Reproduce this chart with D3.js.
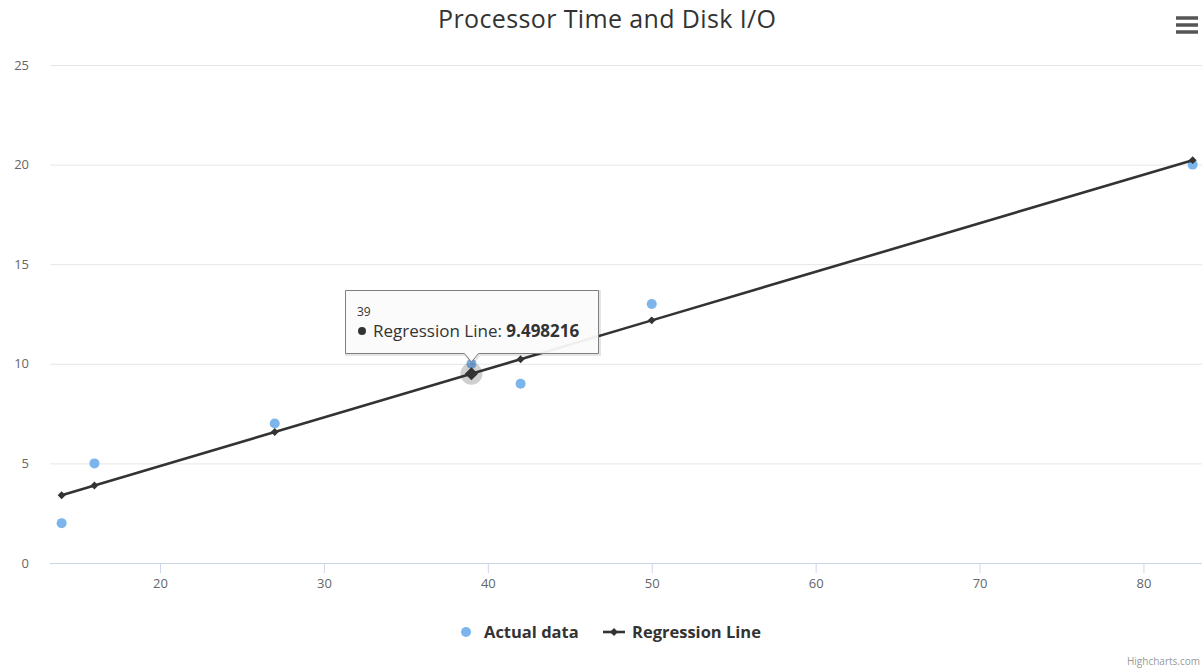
<!DOCTYPE html>
<html><head><meta charset="utf-8">
<script src="https://cdn.jsdelivr.net/npm/d3@7"></script>
<style>
body{margin:0;background:#fff;}
svg{display:block;font-family:"Open Sans","DejaVu Sans",sans-serif;}
</style></head>
<body><svg id="c" width="1202" height="669"></svg>
<script>
const title = "Processor Time and Disk I/O";
const actualX = [14, 16, 27, 39, 42, 50, 83];
const actualY = [2, 5, 7, 10, 9, 13, 20];
const regX = [14, 16, 27, 39, 42, 50, 83];
const regY = [3.404, 3.892, 6.573, 9.498216, 10.230, 12.180, 20.224];
const xTicks = [20, 30, 40, 50, 60, 70, 80];
const yTicks = [0, 5, 10, 15, 20, 25];
const seriesNames = ["Actual data", "Regression Line"];
const tipX = 39, tipValue = "9.498216";

const svg = d3.select("#c");
const L = 50, R = 1202, T = 65, B = 563;
const x = d3.scaleLinear().domain([13.29, 83.57]).range([L, R]);
const y = d3.scaleLinear().domain([0, 25]).range([B, T]);

svg.append("text").attr("x", 607).attr("y", 28).attr("text-anchor", "middle")
  .attr("font-size", 25).attr("fill", "#333").attr("textLength", 338).text(title);

// y grid + labels
const yAxis = d3.axisLeft(y).tickValues(yTicks).tickSize(-(R - L)).tickPadding(21);
const gy = svg.append("g").attr("transform", `translate(${L},0)`).call(yAxis);
gy.select(".domain").remove();
gy.selectAll(".tick line").attr("stroke", "#e6e6e6");
gy.selectAll(".tick text").attr("fill", "#666").attr("font-size", 13).attr("font-family", "Open Sans, sans-serif");

// x axis
const xAxis = d3.axisBottom(x).tickValues(xTicks).tickSize(10).tickPadding(6);
const gx = svg.append("g").attr("transform", `translate(0,${B})`).call(xAxis);
gx.select(".domain").attr("stroke", "#ccd6eb").attr("d", `M${L},0.5H${R}`);
gx.selectAll(".tick line").attr("stroke", "#ccd6eb");
gx.selectAll(".tick text").attr("fill", "#666").attr("font-size", 13).attr("font-family", "Open Sans, sans-serif");

// actual data
svg.append("g").selectAll("circle").data(actualX).join("circle")
  .attr("cx", (d) => x(d)).attr("cy", (d, i) => y(actualY[i])).attr("r", 5)
  .attr("fill", "#7cb5ec");

// regression line
const line = d3.line().x((d) => x(d)).y((d, i) => y(regY[i]));
const diamond = d3.symbol().type(d3.symbolDiamond2).size(40);

// halo on hovered point
const hi = regX.indexOf(tipX);
svg.append("circle").attr("cx", x(tipX)).attr("cy", y(regY[hi])).attr("r", 11)
  .attr("fill", "#434348").attr("opacity", 0.25);

svg.append("path").datum(regX).attr("d", line).attr("fill", "none")
  .attr("stroke", "#333333").attr("stroke-width", 2.6);
svg.append("g").selectAll("path").data(regX).join("path")
  .attr("transform", (d, i) => `translate(${x(d)},${y(regY[i])})`)
  .attr("d", (d) => d === tipX ? d3.symbol().type(d3.symbolDiamond2).size(110)() : diamond())
  .attr("fill", "#333333");

// tooltip
const tx = x(tipX), tipBottom = 353;
const tg = svg.append("g");
const boxPath = `M345.5,290.5 H598.5 V353.5 H${tx + 7} L${tx},${tipBottom + 9} L${tx - 7},353.5 H345.5 Z`;
tg.append("path").attr("d", boxPath).attr("transform", "translate(1,1)").attr("fill", "none")
  .attr("stroke", "#000").attr("stroke-opacity", 0.1).attr("stroke-width", 3);
tg.append("path").attr("d", boxPath).attr("fill", "#fbfbfb").attr("fill-opacity", 0.94)
  .attr("stroke", "#7f7f7f").attr("stroke-width", 1);
tg.append("text").attr("x", 357).attr("y", 316).attr("font-size", 12).attr("fill", "#333").text(tipX);
tg.append("circle").attr("cx", 362).attr("cy", 331).attr("r", 4).attr("fill", "#333");
const tt = tg.append("text").attr("x", 373).attr("y", 337).attr("font-size", 17).attr("fill", "#333");
tt.append("tspan").text(seriesNames[1] + ": ");
tt.append("tspan").attr("font-weight", "bold").text(tipValue);

// legend
const lg = svg.append("g").attr("font-size", 16.5).attr("font-weight", "bold").attr("fill", "#333");
lg.append("circle").attr("cx", 466).attr("cy", 632).attr("r", 5).attr("fill", "#7cb5ec");
lg.append("text").attr("x", 484).attr("y", 638).text(seriesNames[0]);
lg.append("line").attr("x1", 603).attr("x2", 625).attr("y1", 632).attr("y2", 632)
  .attr("stroke", "#333").attr("stroke-width", 2.6);
lg.append("path").attr("transform", "translate(614,632)").attr("d", diamond()).attr("fill", "#333");
lg.append("text").attr("x", 632).attr("y", 638).text(seriesNames[1]);

// menu icon
const mg = svg.append("g").attr("stroke", "#555").attr("stroke-width", 3.5);
[18, 25, 32].forEach((yy) => mg.append("line").attr("x1", 1176).attr("x2", 1198).attr("y1", yy).attr("y2", yy));

// credits
svg.append("text").attr("x", 1200).attr("y", 665).attr("text-anchor", "end")
  .attr("font-size", 10).attr("fill", "#999").text("Highcharts.com");
</script></body></html>
